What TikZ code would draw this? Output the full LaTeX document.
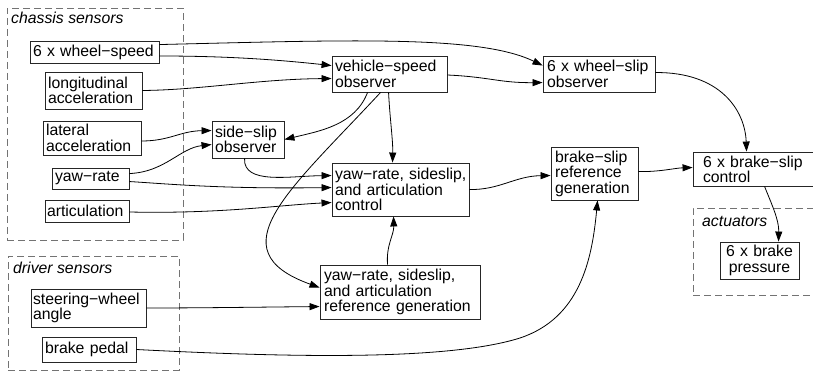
\documentclass[tikz,border=0pt]{standalone}
\usepackage{fontspec}
\setmainfont{Liberation Sans}
\usetikzlibrary{arrows.meta,calc}
\begin{document}
\begin{tikzpicture}[x=1pt,y=-1pt,
  box/.style={draw=black!85, line width=0.9pt, rectangle, inner xsep=0pt, inner ysep=0pt, align=left,
    font={\fontsize{15.8}{15.5}\selectfont}},
  grp/.style={draw=black!55, line width=0.9pt, dash pattern=on 7pt off 4pt, rectangle, inner sep=0pt},
  grplabel/.style={font={\fontsize{15.8}{15.5}\selectfont\itshape}, inner sep=0pt, anchor=base west},
  conn/.style={draw=black, line width=0.8pt, -{Triangle[length=10pt,width=7pt]}}
]
\useasboundingbox (0,0) rectangle (813,371);
\clip (0,0) rectangle (813,371);

% groups
\node[grp, minimum width=176pt, minimum height=232pt] (chassis) at (95,124) {};
\node[grp, minimum width=171pt, minimum height=114pt] (driver) at (93.5,313) {};
\node[grp, minimum width=127pt, minimum height=87pt] (act) at (756.5,251.5) {};
\node[grplabel] (chassislbl) at (11,24) {chassis sensors};
\node[grplabel] (driverlbl) at (13,273) {driver sensors};
\node[grplabel] (actlbl) at (702,227) {actuators};

% boxes
\node[box, minimum width=129pt, minimum height=22pt, text width=123pt] (ws) at (94.5,52) {\mbox{6 x wheel−speed}};
\node[box, minimum width=97pt, minimum height=37pt, text width=91pt] (la) at (93.5,90.5) {\mbox{longitudinal}\\\mbox{acceleration}};
\node[box, minimum width=98pt, minimum height=34pt, text width=92pt] (lat) at (92,138) {\mbox{lateral}\\\mbox{acceleration}};
\node[box, minimum width=77pt, minimum height=21pt, text width=71pt] (yr) at (90.5,178.5) {\mbox{yaw−rate}};
\node[box, minimum width=84pt, minimum height=22pt, text width=80pt] (ar) at (87,211) {\mbox{articulation}};
\node[box, minimum width=72pt, minimum height=37pt, text width=66pt] (ss) at (248,139.5) {\mbox{side−slip}\\\mbox{observer}};
\node[box, minimum width=115pt, minimum height=36pt, text width=109pt] (vs) at (389.5,74) {\mbox{vehicle−speed}\\\mbox{observer}};
\node[box, minimum width=112pt, minimum height=36pt, text width=104pt] (wso) at (599,74) {\mbox{6 x wheel−slip}\\\mbox{observer}};
\node[box, minimum width=137pt, minimum height=53pt, text width=131pt] (ctl) at (400.5,189.5) {\mbox{yaw−rate, sideslip,}\\\mbox{and articulation}\\\mbox{control}};
\node[box, minimum width=87pt, minimum height=53pt, text width=79pt] (bsr) at (594.5,173.5) {\mbox{brake−slip}\\\mbox{reference}\\\mbox{generation}};
\node[box, minimum width=127pt, minimum height=34pt, text width=107pt] (bsc) at (756.5,169) {\mbox{6 x brake−slip}\\[-0.5pt]\mbox{control}};
\node[box, minimum width=79pt, minimum height=37pt, text width=73pt, align=center] (bp) at (759.5,260.5) {\mbox{6 x brake}\\\mbox{pressure}};
\node[box, minimum width=160pt, minimum height=54pt, text width=152pt] (ref) at (400,292) {\mbox{yaw−rate, sideslip,}\\\mbox{and articulation}\\\mbox{reference generation}};
\node[box, minimum width=115pt, minimum height=38pt, text width=111pt] (sw) at (88.5,308) {\mbox{steering−wheel}\\\mbox{angle}};
\node[box, minimum width=94pt, minimum height=25pt, text width=88pt] (pedal) at (89,349.5) {\mbox{brake pedal}};

% connectors
\draw[conn] ($(ws.north east)+(0,4)$) .. controls (350,40) and (480,35) .. ($(wso.north west)+(0,10)$);
\draw[conn] ($(ws.east)+(0,4)$) .. controls (230,56) and (280,60) .. ($(vs.north west)+(0,10)$);
\draw[conn] (la.east) .. controls (200,90) and (260,79) .. ($(vs.north west)+(0,23)$);
\draw[conn] ($(vs.east)+(0,1)$) .. controls (490,77) and (500,83) .. ($(wso.north west)+(0,27)$);
\draw[conn] ($(vs.south west)+(36,0)$) .. controls (355,125) and (320,131) .. (ss.east);
\draw[conn] ($(vs.south west)+(49,0)$) .. controls (290,190) and (215,250) .. ($(ref.north west)+(0,23)$);
\draw[conn] ($(vs.south west)+(57,0)$) .. controls (390,120) and (393,140) .. ($(ctl.north west)+(61,0)$);
\draw[conn] ($(lat.east)+(0,3)$) .. controls (170,141) and (180,131) .. ($(ss.north west)+(0,10)$);
\draw[conn] ($(yr.north east)+(0,6)$) .. controls (165,172) and (180,148) .. ($(ss.north west)+(0,24)$);
\draw[conn] ($(ss.south west)+(33,0)$) .. controls (243,185) and (290,176) .. ($(ctl.north west)+(0,13)$);
\draw[conn] ($(yr.north east)+(0,14)$) .. controls (170,184) and (220,189) .. ($(ctl.north west)+(0,25)$);
\draw[conn] ($(ar.east)+(0,1)$) .. controls (220,214) and (280,205) .. ($(ctl.north west)+(0,40)$);
\draw[conn] ($(ctl.north east)+(0,27)$) .. controls (500,190) and (515,176) .. ($(bsr.north west)+(0,29)$);
\draw[conn] ($(ref.north west)+(68,0)$) .. controls (386,245) and (394,235) .. ($(ctl.south west)+(62,0)$);
\draw[conn] (sw.east) .. controls (200,308) and (270,307) .. ($(ref.north west)+(0,42)$);
\draw[conn] (pedal.east) .. controls (300,358) and (450,360) .. (520,338) .. controls (580,318) and (592,260) .. ($(bsr.south west)+(47,0)$);
\draw[conn] ($(wso.north east)+(0,17)$) .. controls (720,72) and (745,110) .. ($(bsc.north west)+(54,0)$);
\draw[conn] ($(bsr.north east)+(0,25)$) .. controls (660,172) and (675,168) .. ($(bsc.north west)+(0,16)$);
\draw[conn] ($(bsc.south west)+(72,0)$) .. controls (772,205) and (779,220) .. ($(bp.north west)+(59,0)$);
\end{tikzpicture}
\end{document}
